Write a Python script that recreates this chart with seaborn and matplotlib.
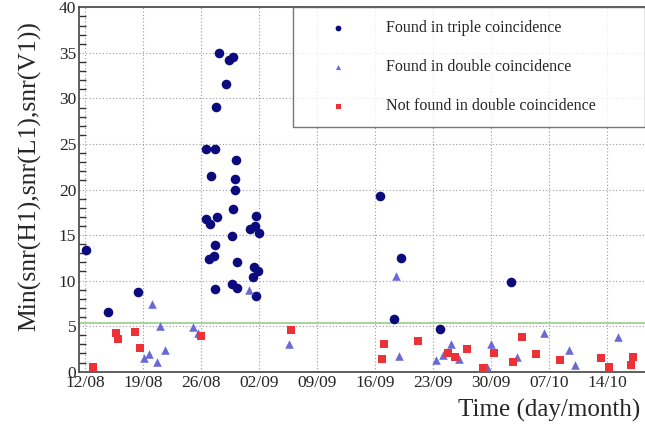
import numpy as np
import pandas as pd
import seaborn as sns
import matplotlib
matplotlib.use("Agg")
from matplotlib import pyplot as plt
from matplotlib.ticker import MultipleLocator

# days counted from 12/08
triple_day = [16.2, 17.4, 17.9, 17.0, 15.8, 14.6, 15.7, 18.2, 15.2, 18.1, 18.1, 17.9, 14.6,
              15.1, 15.9, 20.7, 19.9, 20.5, 21.0, 17.8, 15.7, 15.0, 15.6, 18.3, 20.4, 20.9,
              20.3, 17.8, 18.4, 15.7, 20.6, 0.1, 2.8, 6.4, 35.6, 38.2, 37.3, 42.9, 51.4]
triple_snr = [35.0, 34.2, 34.5, 31.6, 29.1, 24.4, 24.5, 23.2, 21.5, 21.1, 20.0, 17.9, 16.8,
              16.2, 17.0, 17.1, 15.7, 16.0, 15.2, 14.9, 13.9, 12.4, 12.7, 12.0, 11.5, 11.0,
              10.4, 9.6, 9.2, 9.1, 8.3, 13.4, 6.5, 8.8, 19.3, 12.5, 5.75, 4.65, 9.9]

double_day = [8.1, 9.0, 13.0, 13.7, 9.7, 7.7, 7.1, 8.7, 19.8, 24.6, 37.6, 37.9, 44.2, 43.2,
              42.4, 45.1, 49.0, 48.5, 52.1, 55.4, 58.4, 59.1, 64.4]
double_snr = [7.4, 5.0, 4.9, 4.3, 2.4, 1.9, 1.5, 1.1, 9.0, 3.0, 10.5, 1.7, 3.0, 1.8,
              1.3, 1.35, 3.0, 0.55, 1.6, 4.3, 2.4, 0.7, 3.8]

missed_day = [1.0, 3.7, 4.0, 6.0, 6.7, 14.0, 24.9, 36.1, 35.9, 40.2, 43.8, 44.7, 46.1, 48.1,
              49.4, 52.8, 51.7, 54.4, 57.4, 62.3, 63.3, 66.2, 65.9]
missed_snr = [0.5, 4.2, 3.55, 4.35, 2.65, 3.9, 4.6, 3.0, 1.35, 3.4, 2.0, 1.6, 2.5, 0.45,
              2.1, 3.8, 1.05, 1.9, 1.25, 1.5, 0.55, 1.65, 0.75]

threshold = 5.4
tick_days = [0, 7, 14, 21, 28, 35, 42, 49, 56, 63]
tick_labels = ['12/08', '19/08', '26/08', '02/09', '09/09', '16/09', '23/09', '30/09', '07/10', '14/10']

sns.set_style('white')
plt.rcParams['font.family'] = ['Liberation Serif', 'DejaVu Serif']

fig = plt.figure(figsize=(6.45, 4.3), dpi=100)
ax = fig.add_axes([79/645, 58.3/430, 566/645, 364.4/430])

ax.axhline(threshold, color='#a6d49c', lw=1.4, zorder=1)

sns.scatterplot(x=triple_day, y=triple_snr, ax=ax, marker='o', s=48, color='#0b0b7e',
                linewidth=0, label='Found in triple coincidence', zorder=3)
sns.scatterplot(x=double_day, y=double_snr, ax=ax, marker='^', s=38, color='#6a6ad6',
                linewidth=0, label='Found in double coincidence', zorder=3)
sns.scatterplot(x=missed_day, y=missed_snr, ax=ax, marker='s', s=36, color='#ec3237',
                linewidth=0, label='Not found in double coincidence', zorder=3)

ax.set_xlim(-0.72, 67.6)
ax.set_ylim(0, 40)
ax.set_xticks(tick_days)
ax.set_xticklabels(tick_labels)
ax.yaxis.set_major_locator(MultipleLocator(5))
ax.yaxis.set_minor_locator(MultipleLocator(1))

ax.grid(True, which='major', color='#9a9a9a', linestyle=(0, (1, 2)), linewidth=0.8)
ax.set_axisbelow(True)
ax.tick_params(axis='both', which='major', direction='in', length=9, width=1,
               labelsize=12.5, color='#333333')
ax.tick_params(axis='y', which='minor', direction='in', length=5, width=1, color='#333333', left=True)
ax.tick_params(axis='x', pad=2.5)
ax.tick_params(axis='y', pad=2)

for side in ['left', 'bottom', 'top']:
    ax.spines[side].set_color('#444444')
    ax.spines[side].set_linewidth(1.2)
ax.spines['right'].set_visible(False)

ax.set_ylabel('Min(snr(H1),snr(L1),snr(V1))', fontsize=18.5, va='center')
ax.yaxis.set_label_coords(-0.087, 0.537)
ax.set_xlabel('Time (day/month)', fontsize=18, ha='right', va='center')
ax.xaxis.set_label_coords(0.991, -0.105)

leg = ax.legend(loc='upper left', bbox_to_anchor=(0.378, 0.677, 0.622, 0.323),
                mode='expand', borderaxespad=0, fancybox=False, frameon=True,
                fontsize=11.5, labelspacing=1.45, borderpad=0.8, handlelength=4.0,
                handletextpad=1.0, markerscale=0.6)
leg.get_frame().set_edgecolor('#555555')
leg.get_frame().set_linewidth(1.0)

fig.savefig('out.png', dpi=100)
